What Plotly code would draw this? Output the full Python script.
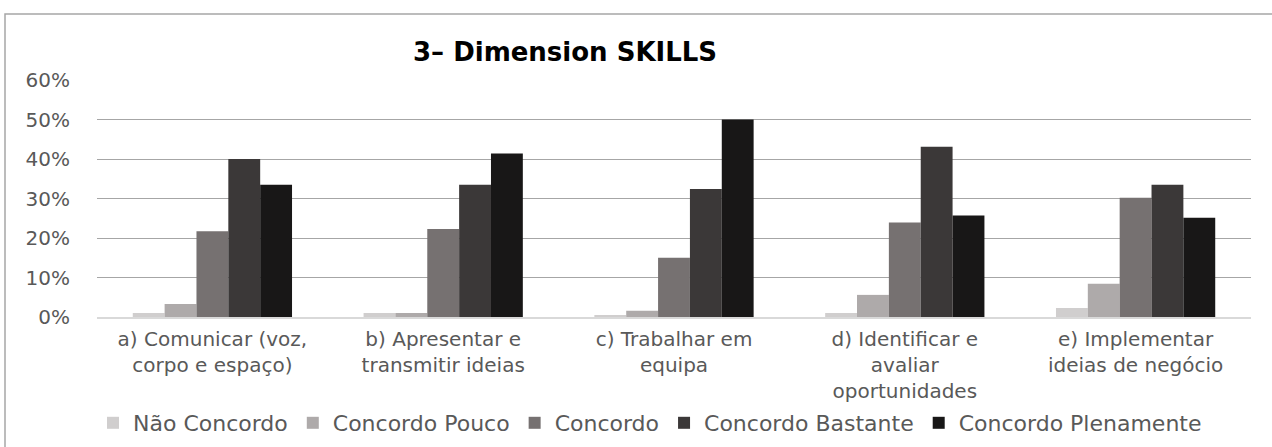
import plotly.graph_objects as go

categories = ["a) Comunicar (voz,<br>corpo e espaço)", "b) Apresentar e<br>transmitir ideias",
              "c) Trabalhar em<br>equipa", "d) Identificar e<br>avaliar<br>oportunidades",
              "e) Implementar<br>ideias de negócio"]
series_names = ["Não Concordo", "Concordo Pouco", "Concordo", "Concordo Bastante", "Concordo Plenamente"]
nao_concordo = [0.010, 0.010, 0.005, 0.010, 0.023]
concordo_pouco = [0.033, 0.010, 0.016, 0.056, 0.084]
concordo = [0.217, 0.223, 0.150, 0.239, 0.302]
concordo_bastante = [0.400, 0.335, 0.324, 0.431, 0.335]
concordo_plenamente = [0.335, 0.414, 0.500, 0.257, 0.251]
colors = ["#d0cece", "#aeaaaa", "#767171", "#3b3838", "#181717"]
y_ticks = [0, 0.1, 0.2, 0.3, 0.4, 0.5, 0.6]

values = [nao_concordo, concordo_pouco, concordo, concordo_bastante, concordo_plenamente]

W, H = 1272, 447
L, R, T, B = 97, 21, 80, 130
PW, PH = W - L - R, H - T - B

fig = go.Figure()
for name, vals, col in zip(series_names, values, colors):
    fig.add_trace(go.Bar(x=categories, y=vals, name=name, marker=dict(color=col, line=dict(width=0))))

fig.update_layout(
    width=W, height=H,
    margin=dict(l=L, r=R, t=T, b=B),
    paper_bgcolor="white", plot_bgcolor="white",
    barmode="group", bargap=0.31, bargroupgap=0,
    font=dict(family="DejaVu Sans", color="#595959", size=20),
    showlegend=True,
    legend=dict(orientation="h", xref="container", yref="container",
                x=650 / W, xanchor="center", y=1 - 423 / H, yanchor="middle",
                font=dict(size=22, color="#595959"), traceorder="normal"),
    yaxis=dict(range=[0, 0.6], tickvals=y_ticks, tickformat=".0%", showgrid=True,
               gridcolor="#a6a6a6", gridwidth=1.3, zeroline=False, showline=False,
               ticks="", ticklabelstandoff=26, automargin=False,
               tickfont=dict(size=20, color="#595959")),
    xaxis=dict(showline=True, linecolor="#d9d9d9", linewidth=1.5, ticks="", automargin=False,
               ticklabelstandoff=3,
               tickfont=dict(size=20, color="#595959"), tickangle=0),
    shapes=[dict(type="rect", xref="paper", yref="paper",
                 x0=(5 - L) / PW, x1=(W + 5 - L) / PW,
                 y0=(H - B - 600) / PH, y1=(H - B - 14) / PH,
                 line=dict(color="#a6a6a6", width=1.5), layer="below")],
    annotations=[dict(text="<b>3– Dimension SKILLS</b>", xref="paper", yref="paper",
                      x=(565 - L) / PW, y=(H - B - 52) / PH, xanchor="center", yanchor="middle",
                      showarrow=False, font=dict(family="DejaVu Sans", size=26, color="black"))],
)

fig.write_html("out.html", config={"displayModeBar": False},
               post_script="document.body.style.margin='0';document.body.style.overflow='hidden';")
